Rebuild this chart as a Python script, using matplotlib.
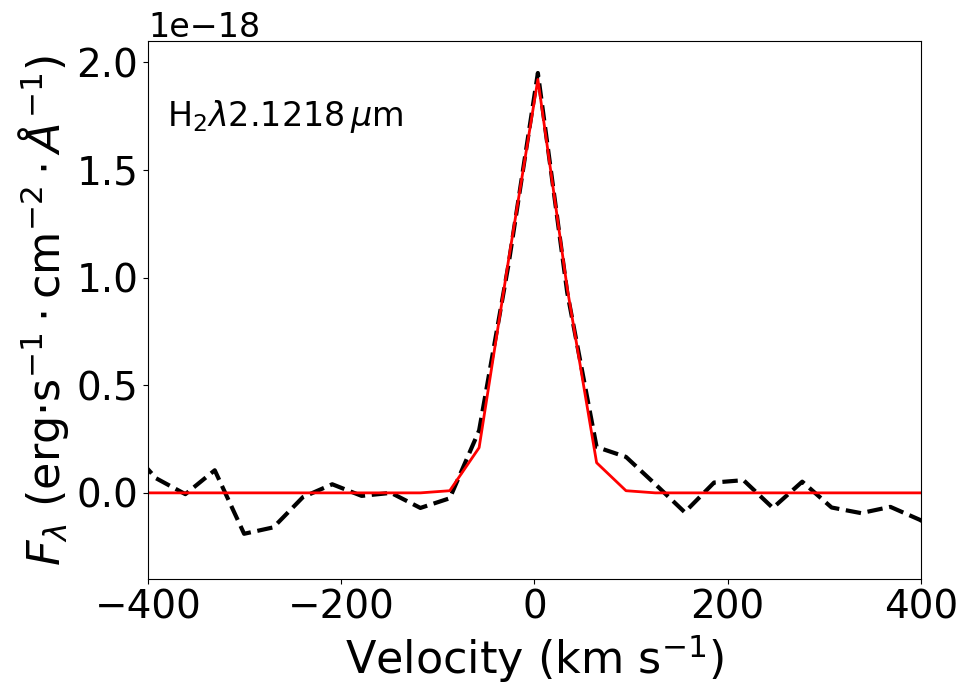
import numpy as np
import matplotlib
matplotlib.use("Agg")
import matplotlib.pyplot as plt

# velocity grid (km/s) of the spectrum pixels
velocity = [-422.1, -391.7, -361.3, -330.9, -300.5, -270.1, -239.7, -209.3,
            -178.9, -148.5, -118.1, -87.7, -57.3, -26.9, 3.5, 33.9, 64.3,
            94.7, 125.1, 155.5, 185.9, 216.3, 246.7, 277.1, 307.5, 337.9,
            368.3, 398.7, 429.1]

# observed flux (1e-18 erg/s/cm2/A)
flux_obs = [0.22, 0.068, -0.006, 0.105, -0.19, -0.16, -0.02, 0.04,
            -0.014, 0.0, -0.07, -0.025, 0.29, 1.06, 1.95, 0.93, 0.213,
            0.167, 0.04, -0.09, 0.048, 0.059, -0.07, 0.052, -0.068, -0.094,
            -0.065, -0.125, -0.2]

# gaussian fit
flux_fit = [0.0, 0.0, 0.0, 0.0, 0.0, 0.0, 0.0, 0.0,
            0.0, 0.0, 0.0, 0.01, 0.21, 1.08, 1.92, 0.95, 0.14,
            0.01, 0.0, 0.0, 0.0, 0.0, 0.0, 0.0, 0.0, 0.0,
            0.0, 0.0, 0.0]

scale = 1e-18

fig = plt.figure(figsize=(9.71, 6.97), dpi=100)
ax = fig.add_axes([0.1524, 0.1693, 0.7961, 0.7723])

ax.plot(velocity, np.array(flux_obs) * scale, color='black', ls='--', lw=3)
ax.plot(velocity, np.array(flux_fit) * scale, color='red', lw=2)

ax.set_xlim(-400, 400)
ax.set_ylim(-0.4e-18, 2.1e-18)
ax.set_xticks([-400, -200, 0, 200, 400])
ax.set_yticks([0.0, 0.5e-18, 1.0e-18, 1.5e-18, 2.0e-18])
ax.tick_params(labelsize=28)
ax.yaxis.get_offset_text().set_fontsize(24)

ax.set_xlabel(r'Velocity (km s$^{-1}$)', fontsize=32)
ax.set_ylabel(r'$F_\lambda$ (erg·s$^{-1}\cdot$cm$^{-2}\cdot\AA^{-1}$)', fontsize=32)

ax.text(0.025, 0.86, r'H$_2\lambda$2.1218$\,\mu$m', transform=ax.transAxes,
        fontsize=24, ha='left', va='center')

fig.savefig('out.png', dpi=100)
